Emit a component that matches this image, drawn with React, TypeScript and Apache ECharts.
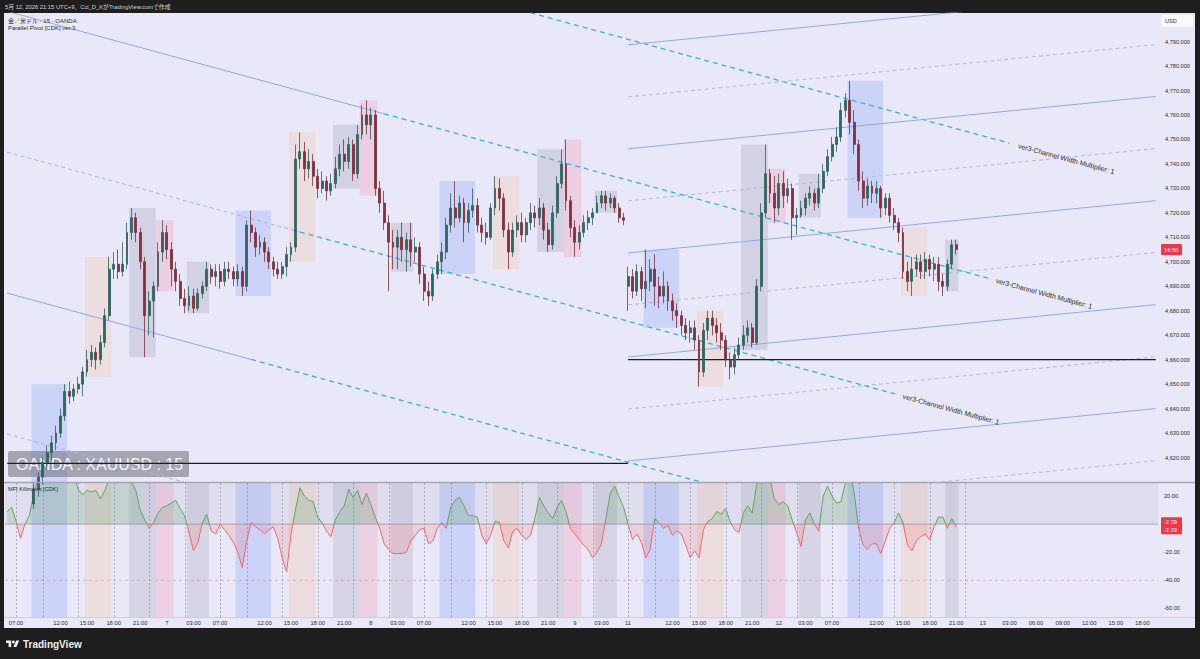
import React, { useEffect, useRef } from "react";
import * as echarts from "echarts";

// ---------------- DATA (30-minute bars, JST) ----------------
// [open, close, low, high]
const CANDLES: number[][] = [
[4598,4596,4592,4601],[4596,4600,4594,4603],[4600,4595,4591,4602],[4595,4593,4589,4598],[4593,4597,4590,4600],
[4597,4601,4595,4604],[4601,4607,4599,4610],[4607,4612,4604,4614],[4612,4618,4609,4620],[4618,4622,4615,4625],
[4622,4626,4619,4629],[4626,4630,4623,4633],[4630,4637,4628,4640],[4637,4647,4635,4650],[4647,4645,4642,4651],
[4645,4648,4643,4650],[4648,4650,4646,4653],[4650,4655,4645,4657],[4655,4660,4653,4664],[4660,4663,4657,4666],
[4663,4660,4656,4665],[4660,4667,4658,4670],[4667,4678,4665,4681],[4678,4697,4676,4702],[4697,4699,4693,4704],
[4699,4696,4693,4705],[4696,4699,4694,4708],[4699,4712,4697,4716],[4712,4718,4709,4722],[4718,4712,4708,4720],
[4712,4700,4697,4714],[4700,4678,4661,4702],[4678,4684,4670,4688],[4684,4690,4669,4692],[4690,4704,4688,4708],
[4704,4712,4700,4717],[4712,4705,4701,4715],[4705,4697,4690,4708],[4697,4692,4688,4700],[4692,4685,4682,4695],
[4685,4682,4679,4689],[4682,4686,4680,4690],[4686,4681,4679,4689],[4681,4687,4680,4689],[4687,4690,4685,4692],
[4690,4697,4688,4700],[4697,4694,4691,4699],[4694,4696,4690,4699],[4696,4692,4689,4699],[4692,4697,4690,4700],
[4697,4696,4693,4700],[4696,4693,4690,4698],[4693,4696,4690,4699],[4696,4690,4686,4698],[4690,4715,4688,4717],
[4715,4712,4708,4721],[4712,4706,4702,4714],[4706,4708,4703,4711],[4708,4704,4700,4710],[4704,4700,4697,4706],
[4700,4697,4694,4702],[4697,4695,4693,4700],[4695,4698,4693,4700],[4698,4703,4694,4706],[4703,4706,4700,4708],
[4706,4742,4704,4748],[4742,4745,4738,4753],[4745,4738,4733,4749],[4738,4741,4734,4746],[4741,4735,4731,4744],
[4735,4730,4726,4738],[4730,4733,4728,4737],[4733,4729,4725,4735],[4729,4732,4727,4736],[4732,4738,4730,4743],
[4738,4744,4735,4748],[4744,4741,4737,4750],[4741,4748,4738,4751],[4748,4736,4733,4750],[4736,4752,4734,4756],
[4752,4760,4750,4764],[4760,4756,4752,4766],[4756,4760,4750,4763],[4760,4730,4727,4762],[4730,4724,4720,4733],
[4724,4716,4713,4729],[4716,4708,4688,4719],[4708,4706,4697,4713],[4706,4710,4697,4713],[4710,4705,4700,4716],
[4705,4709,4696,4712],[4709,4704,4698,4716],[4704,4706,4700,4710],[4706,4695,4691,4708],[4695,4688,4684,4698],
[4688,4686,4682,4692],[4686,4695,4684,4697],[4695,4700,4693,4703],[4700,4704,4695,4708],[4704,4715,4701,4718],
[4715,4722,4712,4728],[4722,4718,4714,4733],[4718,4724,4716,4727],[4724,4716,4708,4726],[4716,4721,4712,4724],
[4721,4723,4718,4730],[4723,4715,4712,4726],[4715,4712,4708,4718],[4712,4710,4707,4716],[4710,4722,4709,4724],
[4722,4730,4719,4735],[4730,4726,4721,4734],[4726,4713,4710,4728],[4713,4704,4697,4716],[4704,4713,4702,4716],
[4713,4716,4710,4719],[4716,4711,4708,4720],[4711,4716,4708,4718],[4716,4720,4713,4724],[4720,4718,4714,4723],
[4718,4722,4715,4726],[4722,4713,4709,4724],[4713,4707,4704,4716],[4707,4720,4705,4723],[4720,4732,4718,4735],
[4732,4740,4730,4746],[4740,4725,4721,4750],[4725,4714,4710,4727],[4714,4708,4702,4717],[4708,4712,4705,4715],
[4712,4716,4710,4719],[4716,4718,4713,4721],[4718,4720,4715,4722],[4720,4724,4720,4727],[4724,4727,4722,4729],
[4727,4724,4721,4729],[4724,4726,4722,4728],[4726,4722,4720,4727],[4722,4718,4716,4724],[4718,4717,4715,4720],
[4690,4694,4680,4698],[4694,4688,4685,4697],[4688,4696,4686,4699],[4696,4689,4684,4698],[4689,4692,4681,4705],
[4692,4697,4688,4701],[4697,4690,4682,4703],[4690,4686,4681,4694],[4686,4690,4683,4696],[4690,4684,4680,4692],
[4684,4680,4676,4687],[4680,4678,4673,4683],[4678,4674,4670,4680],[4674,4671,4668,4677],[4671,4673,4667,4676],
[4673,4668,4664,4676],[4668,4655,4649,4670],[4655,4672,4653,4675],[4672,4677,4668,4680],[4677,4674,4670,4680],
[4674,4671,4667,4677],[4671,4668,4664,4675],[4668,4660,4657,4670],[4660,4657,4652,4663],[4657,4662,4654,4665],
[4662,4666,4660,4669],[4666,4670,4664,4674],[4670,4673,4667,4676],[4673,4667,4665,4675],[4667,4690,4666,4693],
[4690,4720,4688,4724],[4720,4736,4718,4748],[4736,4728,4724,4738],[4728,4722,4716,4735],[4722,4732,4719,4736],
[4732,4727,4722,4737],[4727,4730,4724,4734],[4730,4718,4709,4732],[4718,4719,4711,4722],[4719,4722,4718,4725],
[4722,4726,4719,4728],[4726,4728,4723,4731],[4728,4724,4721,4730],[4724,4730,4722,4736],[4730,4737,4728,4740],
[4737,4743,4735,4746],[4743,4748,4741,4751],[4748,4751,4745,4755],[4751,4762,4749,4765],[4762,4766,4759,4769],
[4766,4757,4752,4774],[4757,4748,4744,4762],[4748,4733,4729,4750],[4733,4726,4722,4737],[4726,4731,4723,4734],
[4731,4728,4724,4733],[4728,4730,4724,4733],[4730,4722,4718,4731],[4722,4726,4719,4728],[4726,4719,4716,4728],
[4719,4716,4713,4722],[4716,4712,4708,4718],[4712,4696,4693,4714],[4696,4692,4688,4700],[4692,4697,4686,4702],
[4697,4700,4694,4703],[4700,4696,4693,4703],[4696,4701,4693,4704],[4701,4697,4694,4703],[4697,4699,4692,4702],
[4699,4692,4688,4702],[4692,4690,4686,4695],[4690,4699,4688,4701],[4699,4707,4697,4709],[4707,4705,4703,4709]
];

const MFI: number[] = [
9, 12, 2, -10, 0, 6, 22, 34, 38, 36,
40, 38, 35, 36, 33, 35, 25, 21, 24, 23,
24, 18, 24, 32, 36, 38, 36, 33, 30, 24,
10, 3, -3, 1, 8, 12, 13, 15, 17, 11,
6, -6, -19, -13, 1, 7, -5, -7, 0, -4,
-8, -13, -20, -31, -12, 1, -2, -4, -7, -4,
-2, -10, -24, -34, -7, 10, 26, 20, 17, 16,
5, 1, -5, -9, 3, 9, 13, 25, 19, 24,
14, 22, 14, 5, -3, -14, -18, -21, -21, -21,
-20, -12, -8, -4, -3, -14, -12, -3, 1, -3,
12, 17, 19, 13, 6, 6, 5, -8, -14, -8,
2, 1, -12, -17, -5, -3, -8, -11, -8, 4,
19, 13, 8, 4, 12, 17, 9, -3, -7, -11,
-15, -18, -24, -20, -14, 4, 22, 27, 19, 12,
0, -11, -7, -13, -24, -18, 4, 1, -3, -1,
-8, -5, -7, -15, -24, -19, -24, -4, 2, 4,
9, 7, 11, 2, -4, -6, 8, 13, 8, 28,
36, 38, 32, 18, 14, 16, 13, 3, -6, -16,
3, 8, 0, -5, 20, 27, 20, 15, 16, 29,
38, 22, -3, -15, -18, -14, -14, -21, -12, -3,
1, 8, 1, -15, -19, -12, -9, -7, -11, -2,
5, 5, -3, 4, -2.29
];

const LAST_PRICE = 4705;
const LAST_MFI = -2.29;
const COUNTDOWN = "14:50";

const X_TICKS: [string, string][] = [
["5/6 07:00","07:00"],["5/6 12:00","12:00"],["5/6 15:00","15:00"],["5/6 18:00","18:00"],["5/6 21:00","21:00"],
["5/7 00:00","7"],["5/7 03:00","03:00"],["5/7 07:00","07:00"],["5/7 12:00","12:00"],["5/7 15:00","15:00"],
["5/7 18:00","18:00"],["5/7 21:00","21:00"],["5/8 00:00","8"],["5/8 03:00","03:00"],["5/8 07:00","07:00"],
["5/8 12:00","12:00"],["5/8 15:00","15:00"],["5/8 18:00","18:00"],["5/8 21:00","21:00"],["5/9 00:00","9"],
["5/9 03:00","03:00"],["5/11 07:00","11"],["5/11 12:00","12:00"],["5/11 15:00","15:00"],["5/11 18:00","18:00"],
["5/11 21:00","21:00"],["5/12 00:00","12"],["5/12 03:00","03:00"],["5/12 07:00","07:00"],["5/12 12:00","12:00"],
["5/12 15:00","15:00"],["5/12 18:00","18:00"],["5/12 21:00","21:00"],["5/13 00:00","13"],["5/13 03:00","03:00"],
["5/13 06:00","06:00"],["5/13 09:00","09:00"],["5/13 12:00","12:00"],["5/13 15:00","15:00"],["5/13 18:00","18:00"]
];

// killzones: [first bar, last bar, type] 0 asia, 1 london, 2 NY, 3 NY lunch
const KILLZONES: [string, string, number][] = [
["5/6 09:00","5/6 12:30",0],["5/6 15:00","5/6 17:30",1],["5/6 20:00","5/6 22:30",2],["5/6 23:00","5/7 00:30",3],["5/7 02:30","5/7 04:30",2],
["5/7 09:00","5/7 12:30",0],["5/7 15:00","5/7 17:30",1],["5/7 20:00","5/7 22:30",2],["5/7 23:00","5/8 00:30",3],["5/8 02:30","5/8 04:30",2],
["5/8 09:00","5/8 12:30",0],["5/8 15:00","5/8 17:30",1],["5/8 20:00","5/8 22:30",2],["5/8 23:00","5/9 00:30",3],["5/9 02:30","5/9 04:30",2],
["5/11 09:00","5/11 12:30",0],["5/11 15:00","5/11 17:30",1],["5/11 20:00","5/11 22:30",2],["5/11 23:00","5/12 00:30",3],["5/12 02:30","5/12 04:30",2],
["5/12 09:00","5/12 12:30",0],["5/12 15:00","5/12 17:30",1],["5/12 20:00","5/12 21:00",2]
];
const SEPARATOR_TIMES = ["02:00", "07:00", "10:00", "14:00", "18:00", "22:00"];
const SEPARATOR_LAST = "5/12 22:00";

// drawings in [bar index, price]
const DESC_SOLID = [[[0, 4802.4], [85, 4760.5]], [[0, 4687.2], [55, 4660.1]]];
const DESC_LIGHT = [[[0, 4744.8], [66, 4712.2]], [[0, 4629.6], [40, 4609.9]]];
const DESC_PROJ = [
  [[118, 4801.8], [226, 4748.5]],
  [[85, 4760.5], [222, 4692.9]],
  [[66, 4712.2], [201, 4645.6]],
  [[55, 4660.1], [157, 4609.7]],
];
const PROJ_LABELS = [[228, 4747.5], [223, 4692.4], [202, 4645.1]];
const PROJ_TEXT = "ver3-Channel Width Multiplier: 1";
const ASC_FROM = 140, ASC_TO = 259;
const ASC_START = [4788.7, 4767.4, 4746.2, 4724.9, 4703.6, 4682.4, 4661.1, 4639.8, 4618.6, 4597.3];
const ASC_END = [4810.1, 4788.8, 4767.6, 4746.3, 4725.0, 4703.8, 4682.5, 4661.2, 4640.0, 4618.7];
const H_LINES = [[[0, 4617.6], [140, 4617.6]], [[140, 4660], [259, 4660]]];
const MFI_LEVELS = [0, -40];

const PRICE_MIN = 4610, PRICE_MAX = 4801.7;
const MFI_MIN = -66.2, MFI_MAX = 29.3;
const MFI_LABELS = [20, -20, -40, -60];

// ---------------- layout / styling ----------------
const N_CAT = 260;
const G0 = { left: 5, top: 13, width: 1153, height: 469 };
const G1 = { left: 5, top: 483, width: 1153, height: 134 };
const FONT = "'Liberation Sans', 'Noto Sans CJK JP', sans-serif";
const BOX_COLORS = ["rgba(90,130,255,0.2)", "rgba(255,165,100,0.17)", "rgba(125,125,150,0.2)", "rgba(255,95,135,0.18)"];
const BAND_COLORS = ["rgba(90,130,255,0.2)", "rgba(255,165,100,0.17)", "rgba(125,125,150,0.18)", "rgba(255,95,135,0.17)"];
const MFI_UP = "#5ea65e", MFI_DN = "#ee6a6a";

const pad = (n: number) => (n < 10 ? "0" + n : "" + n);

function buildTimes(): string[] {
  const out: string[] = [];
  const lastReal = Date.UTC(2026, 4, 12, 21, 0);
  const wkStart = Date.UTC(2026, 4, 9, 6, 0);
  const wkEnd = Date.UTC(2026, 4, 11, 7, 0);
  let t = Date.UTC(2026, 4, 6, 5, 0);
  while (out.length < N_CAT) {
    const d = new Date(t);
    const h = d.getUTCHours();
    const real = t <= lastReal;
    const skip = real && (h === 6 || (t >= wkStart && t < wkEnd));
    if (!skip) out.push(`${d.getUTCMonth() + 1}/${d.getUTCDate()} ${pad(h)}:${pad(d.getUTCMinutes())}`);
    t += 30 * 60000;
  }
  return out;
}

// vertical two-colour gradient split at MFI = 0, in the MFI pane's pixel space
function splitGradient(above: string, below: string) {
  const off = (MFI_MAX - 0) / (MFI_MAX - MFI_MIN);
  return new echarts.graphic.LinearGradient(
    0, G1.top, 0, G1.top + G1.height,
    [
      { offset: 0, color: above },
      { offset: off, color: above },
      { offset: off, color: below },
      { offset: 1, color: below },
    ],
    true
  );
}

function buildOption(times: string[]) {
  const tickMap = new Map(X_TICKS);
  const idxOf = (k: string) => times.indexOf(k);

  const boxes = KILLZONES.map(([a, b, t]) => {
    const s = idxOf(a), e = idxOf(b);
    let lo = Infinity, hi = -Infinity;
    for (let i = s; i <= e && i < CANDLES.length; i++) {
      lo = Math.min(lo, CANDLES[i][2]);
      hi = Math.max(hi, CANDLES[i][3]);
    }
    return [s, e, lo, hi, t];
  });
  const bands = KILLZONES.map(([a, b, t]) => [idxOf(a), idxOf(b), t]);
  const lastSep = idxOf(SEPARATOR_LAST);
  const sepIdx: number[] = [];
  times.forEach((k, i) => {
    if (i <= lastSep && SEPARATOR_TIMES.includes(k.split(" ")[1])) sepIdx.push(i);
  });

  const series: any[] = [];
  // main killzone boxes
  series.push({
    type: "custom",
    xAxisIndex: 0,
    yAxisIndex: 0,
    z: 1,
    silent: true,
    clip: true,
    encode: { x: [0, 1], y: [2, 3] },
    data: boxes,
    renderItem: (params: any, api: any) => {
      const w = api.size([1, 0])[0];
      const p1 = api.coord([api.value(0), api.value(3)]);
      const p2 = api.coord([api.value(1), api.value(2)]);
      return {
        type: "rect",
        shape: { x: p1[0] - w / 2, y: p1[1], width: p2[0] - p1[0] + w, height: p2[1] - p1[1] },
        style: { fill: BOX_COLORS[api.value(4)] },
      };
    },
  });
  // MFI killzone bands
  series.push({
    type: "custom",
    xAxisIndex: 1,
    yAxisIndex: 1,
    z: 1,
    silent: true,
    clip: true,
    encode: { x: [0, 1], y: 2 },
    data: bands,
    renderItem: (params: any, api: any) => {
      const w = api.size([1, 0])[0];
      const x1 = api.coord([api.value(0), 0])[0] - w / 2;
      const x2 = api.coord([api.value(1), 0])[0] + w / 2;
      const top = api.coord([api.value(0), MFI_MAX])[1];
      const bot = api.coord([api.value(0), MFI_MIN])[1];
      return {
        type: "rect",
        shape: { x: x1, y: top, width: x2 - x1, height: bot - top },
        style: { fill: BAND_COLORS[api.value(2)] },
      };
    },
  });
  // MFI: shaded zone above 0, level lines, separators
  series.push({
    type: "custom",
    xAxisIndex: 1,
    yAxisIndex: 1,
    z: 2,
    silent: true,
    clip: true,
    data: [[0, 0]],
    renderItem: (params: any, api: any) => {
      const l = api.coord([0, 0])[0] - api.size([1, 0])[0] / 2;
      const r = api.coord([N_CAT - 1, 0])[0] + api.size([1, 0])[0] / 2;
      const y0 = api.coord([0, MFI_LEVELS[0]])[1];
      const yTop = api.coord([0, MFI_MAX])[1];
      const yBot = api.coord([0, MFI_MIN])[1];
      const yN = api.coord([0, MFI_LEVELS[1]])[1];
      const children: any[] = [
        { type: "rect", shape: { x: l, y: yTop, width: r - l, height: y0 - yTop }, style: { fill: "rgba(140,140,165,0.1)" } },
        { type: "line", shape: { x1: l, y1: y0, x2: r, y2: y0 }, style: { stroke: "rgba(110,110,128,0.5)", lineWidth: 1 } },
        { type: "line", shape: { x1: l, y1: yN, x2: r, y2: yN }, style: { stroke: "rgba(235,120,140,0.6)", lineWidth: 1, lineDash: [3, 3] } },
      ];
      sepIdx.forEach((i) => {
        const x = Math.round(api.coord([i, 0])[0]) + 0.5;
        children.push({
          type: "line",
          shape: { x1: x, y1: yTop, x2: x, y2: yBot },
          style: { stroke: "rgba(105,105,125,0.6)", lineWidth: 0.8, lineDash: [2, 2] },
        });
      });
      return { type: "group", children };
    },
  });

  const line = (pts: number[][], color: string, type: any, width: number) => ({
    type: "line",
    xAxisIndex: 0,
    yAxisIndex: 0,
    data: pts,
    showSymbol: false,
    symbol: "none",
    silent: true,
    z: 3,
    clip: true,
    lineStyle: { color, type, width },
  });
  DESC_SOLID.forEach((p) => series.push(line(p, "#8fa9ee", "solid", 1)));
  DESC_LIGHT.forEach((p) => series.push(line(p, "#aab2e6", [4, 3], 1)));
  DESC_PROJ.forEach((p) => series.push(line(p, "#35b3d6", [5, 4], 1.3)));
  ASC_START.forEach((p0, k) =>
    series.push(
      line(
        [[ASC_FROM, p0], [ASC_TO, ASC_END[k]]],
        k % 2 === 0 ? "#8fa9ee" : "#b0b6e6",
        k % 2 === 0 ? "solid" : [4, 3],
        1
      )
    )
  );
  H_LINES.forEach((p) => series.push(line(p, "#1d1d22", "solid", 1.4)));

  series.push({
    type: "candlestick",
    xAxisIndex: 0,
    yAxisIndex: 0,
    data: CANDLES,
    barWidth: 2.4,
    z: 4,
    silent: true,
    clip: true,
    itemStyle: {
      color: "#2a6b62",
      color0: "#8a2f3f",
      borderColor: "#2f5f5a",
      borderColor0: "#7a2e3a",
      borderWidth: 0.8,
    },
  });

  series.push({
    type: "line",
    xAxisIndex: 1,
    yAxisIndex: 1,
    data: MFI,
    showSymbol: false,
    symbol: "none",
    silent: true,
    z: 3,
    clip: true,
    lineStyle: { width: 1, color: splitGradient(MFI_UP, MFI_DN) },
    areaStyle: { color: splitGradient("rgba(94,166,94,0.3)", "rgba(238,106,106,0.28)"), origin: 0 },
  });

  const axisLabelBase = { color: "#2b2b2b", fontSize: 5.6, fontFamily: FONT };

  return {
    animation: false,
    backgroundColor: "transparent",
    grid: [G0, G1],
    xAxis: [
      { type: "category", gridIndex: 0, data: times, show: false },
      {
        type: "category",
        gridIndex: 1,
        data: times,
        axisLine: { show: false },
        axisTick: { show: false },
        splitLine: { show: false },
        axisLabel: {
          ...axisLabelBase,
          fontSize: 5.8,
          margin: 3,
          interval: (i: number, v: string) => tickMap.has(v),
          formatter: (v: string) => tickMap.get(v) || "",
        },
      },
    ],
    yAxis: [
      {
        type: "value",
        gridIndex: 0,
        position: "right",
        min: PRICE_MIN,
        max: PRICE_MAX,
        interval: 10,
        axisLine: { show: false },
        axisTick: { show: false },
        splitLine: { show: false },
        axisLabel: {
          ...axisLabelBase,
          margin: 7,
          formatter: (v: number) =>
            v < 4615 || v > 4795
              ? ""
              : v.toLocaleString("en-US", { minimumFractionDigits: 3, maximumFractionDigits: 3 }),
        },
      },
      {
        type: "value",
        gridIndex: 1,
        position: "right",
        min: MFI_MIN,
        max: MFI_MAX,
        axisLine: { show: false },
        axisTick: { show: false },
        splitLine: { show: false },
        axisLabel: {
          ...axisLabelBase,
          margin: 6,
          formatter: (v: number) => {
            const r = Math.round(v * 100) / 100;
            return MFI_LABELS.includes(r) ? r.toFixed(2) : "";
          },
        },
      },
    ],
    graphic: [
      {
        id: "hdr", type: "text", x: 5, y: 6.5, z: 50,
        style: { text: "5月 12, 2026 21:15 UTC+9、Cci_D_KがTradingView.comで作成", fill: "#d6d6d6", fontSize: 5.8, fontFamily: FONT, verticalAlign: "middle" },
      },
      {
        id: "sym", type: "text", x: 8, y: 20.5, z: 50,
        style: { text: "金／米ドル · 15 · OANDA", fill: "#2b2b2b", fontSize: 6, fontFamily: FONT, verticalAlign: "middle" },
      },
      {
        id: "ind", type: "text", x: 8, y: 28, z: 50,
        style: { text: "Parallel Pivot [CDK] ver.3", fill: "#2b2b2b", fontSize: 6, fontFamily: FONT, verticalAlign: "middle" },
      },
      {
        id: "mfiname", type: "text", x: 8, y: 489, z: 50,
        style: { text: "MFI Killzones [CDK]", fill: "#2b2b2b", fontSize: 5.6, fontFamily: FONT, verticalAlign: "middle" },
      },
      { id: "usdbox", type: "rect", z: 50, shape: { x: 1161, y: 15, width: 32, height: 11.5, r: 1 }, style: { fill: "#fbfbfe" } },
      {
        id: "usd", type: "text", x: 1165, y: 21, z: 51,
        style: { text: "USD", fill: "#2b2b2b", fontSize: 5.6, fontFamily: FONT, verticalAlign: "middle" },
      },
      { id: "wmbox", type: "rect", z: 2, shape: { x: 8, y: 451, width: 181, height: 26, r: 2 }, style: { fill: "rgba(118,118,132,0.6)" } },
      {
        id: "wm", type: "text", x: 16, y: 464, z: 2,
        style: { text: "OANDA : XAUUSD : 15", fill: "#f5f5fa", fontSize: 16, fontFamily: FONT, verticalAlign: "middle" },
      },
      { id: "div1", type: "line", z: 40, shape: { x1: 4, y1: 482.5, x2: 1195, y2: 482.5 }, style: { stroke: "#a6a6b2", lineWidth: 1.6 } },
      { id: "div2", type: "line", z: 40, shape: { x1: 4, y1: 617.5, x2: 1195, y2: 617.5 }, style: { stroke: "#cfcfdc", lineWidth: 1 } },
      // TradingView logo
      { id: "tv1", type: "polygon", z: 50, shape: { points: [[6, 640.5], [11.2, 640.5], [11.2, 647.1], [8.6, 647.1], [8.6, 643.1], [6, 643.1]] }, style: { fill: "#f0f0f0" } },
      { id: "tv2", type: "circle", z: 50, shape: { cx: 13.4, cy: 642, r: 1.5 }, style: { fill: "#f0f0f0" } },
      { id: "tv3", type: "polygon", z: 50, shape: { points: [[16.2, 640.5], [19.2, 640.5], [16.4, 647.1], [13.4, 647.1]] }, style: { fill: "#f0f0f0" } },
      {
        id: "tvtext", type: "text", x: 23, y: 644, z: 50,
        style: { text: "TradingView", fill: "#f0f0f0", fontSize: 10, fontWeight: "bold", fontFamily: FONT, verticalAlign: "middle" },
      },
    ],
    series,
  };
}

export default function App() {
  const ref = useRef<HTMLDivElement>(null);
  useEffect(() => {
    const el = ref.current;
    if (!el) return;
    const chart = echarts.init(el, undefined, { renderer: "svg" });
    const times = buildTimes();
    try {
      chart.setOption(buildOption(times) as any);
    } catch (e) {}

    // pixel mapping via the chart's own scales (fallback: same linear mapping)
    const toPx = (p: number[], g: number, ymin: number, ymax: number, G: any) => {
      try {
        const r = chart.convertToPixel({ gridIndex: g } as any, p) as any;
        if (r && isFinite(r[0]) && isFinite(r[1])) return r as number[];
      } catch (e) {}
      const bw = G.width / N_CAT;
      return [G.left + (p[0] + 0.5) * bw, G.top + ((ymax - p[1]) / (ymax - ymin)) * G.height];
    };
    const px0 = (p: number[]) => toPx(p, 0, PRICE_MIN, PRICE_MAX, G0);
    const px1 = (p: number[]) => toPx(p, 1, MFI_MIN, MFI_MAX, G1);

    try {
      const labels: any[] = PROJ_LABELS.map((anchor, i) => {
        const a = px0(DESC_PROJ[i][0]);
        const b = px0(DESC_PROJ[i][1]);
        const ang = Math.atan2(b[1] - a[1], b[0] - a[0]);
        const p = px0(anchor);
        return {
          id: "chlab" + i, type: "text", x: p[0], y: p[1], rotation: -ang, z: 45,
          style: { text: PROJ_TEXT, fill: "#2a2a2a", fontSize: 7, fontFamily: FONT, align: "left", verticalAlign: "middle" },
        };
      });
      const xr = G0.left + G0.width + 3;
      const yp = px0([0, LAST_PRICE])[1];
      labels.push({ id: "pbox", type: "rect", z: 60, shape: { x: xr, y: yp - 5.5, width: 21, height: 11, r: 1 }, style: { fill: "#f23645" } });
      labels.push({
        id: "ptxt", type: "text", x: xr + 3, y: yp, z: 61,
        style: { text: COUNTDOWN, fill: "#ffffff", fontSize: 5.6, fontFamily: FONT, verticalAlign: "middle" },
      });
      const ym = px1([0, LAST_MFI])[1];
      labels.push({ id: "mbox", type: "rect", z: 60, shape: { x: xr, y: ym - 10, width: 21, height: 17, r: 1 }, style: { fill: "#f23645" } });
      labels.push({
        id: "mtxt1", type: "text", x: xr + 3, y: ym - 5.5, z: 61,
        style: { text: LAST_MFI.toFixed(2), fill: "#ffffff", fontSize: 5.6, fontFamily: FONT, verticalAlign: "middle" },
      });
      labels.push({
        id: "mtxt2", type: "text", x: xr + 3, y: ym + 2.5, z: 61,
        style: { text: LAST_MFI.toFixed(2), fill: "#ffffff", fontSize: 5.6, fontFamily: FONT, verticalAlign: "middle" },
      });
      chart.setOption({ graphic: labels } as any);
    } catch (e) {}
    return () => chart.dispose();
  }, []);

  return (
    <div style={{ position: "fixed", left: 0, top: 0, width: 1200, height: 659, background: "#1e1e1e", overflow: "hidden" }}>
      <div style={{ position: "absolute", left: 4, top: 13, width: 1191, height: 615, background: "#e9e8f8" }} />
      <div ref={ref} style={{ position: "absolute", left: 0, top: 0, width: 1200, height: 659 }} />
    </div>
  );
}
